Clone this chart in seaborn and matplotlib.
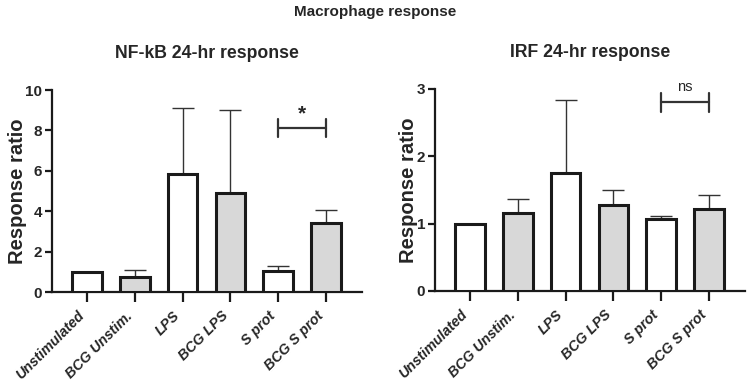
import matplotlib
matplotlib.use("Agg")
import matplotlib.pyplot as plt
import seaborn as sns
import pandas as pd
import numpy as np

categories = ["Unstimulated", "BCG Unstim.", "LPS", "BCG LPS", "S prot", "BCG S prot"]
nfkb_mean = [0.97, 0.75, 5.85, 4.88, 1.02, 3.42]
nfkb_upper = [0.97, 1.07, 9.13, 9.03, 1.27, 4.05]
irf_mean = [0.99, 1.16, 1.75, 1.27, 1.07, 1.22]
irf_upper = [0.99, 1.36, 2.83, 1.50, 1.11, 1.42]
fill_colors = ["white", "#d8d8d8", "white", "#d8d8d8", "white", "#d8d8d8"]

sns.set_theme(style="ticks")
plt.rcParams['font.family'] = ['Liberation Sans', 'DejaVu Sans']

fig = plt.figure(figsize=(7.5, 3.83), dpi=100)
W, H = 750, 383

def axes_px(x0, y0, x1, y1):
    return fig.add_axes([x0 / W, 1 - y1 / H, (x1 - x0) / W, (y1 - y0) / H])

ax1 = axes_px(52, 90, 362, 292)
ax2 = axes_px(435, 89, 745, 291)

def draw(ax, mean, upper, ymax, yticks, title, sig_y, sig_lo, sig_hi, sig_text, text_y, text_size):
    df = pd.DataFrame({"cat": categories, "val": mean})
    sns.barplot(data=df, x="cat", y="val", hue="cat", palette=fill_colors, legend=False,
                edgecolor="#1a1a1a", linewidth=2.2, width=0.62, errorbar=None, ax=ax,
                zorder=3)
    x = np.arange(len(categories))
    m = np.array(mean)
    up = np.array(upper) - m
    ax.errorbar(x, m, yerr=[np.zeros_like(up), up], fmt="none", ecolor="#333333",
                elinewidth=1.0, capsize=8, capthick=1.0, zorder=2)
    ax.set_xlim(-0.73, 5.75)
    ax.set_ylim(0, ymax)
    ax.set_yticks(yticks)
    ax.set_yticklabels([str(t) for t in yticks], fontsize=11, fontweight="bold")
    ax.set_xticks(x)
    ax.set_xticklabels(categories, rotation=45, ha="right",
                       fontsize=10.3, fontstyle="italic", fontweight="bold")
    ax.set_xlabel("")
    ax.set_ylabel("Response ratio", fontsize=14.5, fontweight="bold", labelpad=-1)
    ax.set_title(title, fontsize=12.7, fontweight="bold", pad=23)
    for s in ["top", "right"]:
        ax.spines[s].set_visible(False)
    for s in ["left", "bottom"]:
        ax.spines[s].set_linewidth(1.6)
        ax.spines[s].set_color("#1a1a1a")
    ax.tick_params(axis="x", length=7, width=1.6, color="#1a1a1a", pad=5)
    ax.tick_params(axis="y", length=5, width=1.6, color="#1a1a1a", pad=2)
    # significance bracket between S prot and BCG S prot
    ax.plot([4, 5], [sig_y, sig_y], color="#333333", lw=1.6, clip_on=False)
    ax.plot([4, 4], [sig_lo, sig_hi], color="#333333", lw=1.6, clip_on=False)
    ax.plot([5, 5], [sig_lo, sig_hi], color="#333333", lw=1.6, clip_on=False)
    ax.text(4.5, text_y, sig_text, ha="center", va="center",
            fontsize=text_size, fontweight="bold" if sig_text == "*" else "normal")

draw(ax1, nfkb_mean, nfkb_upper, 10, [0, 2, 4, 6, 8, 10], "NF-kB 24-hr response",
     8.12, 7.67, 8.56, "*", 8.8, 15)
draw(ax2, irf_mean, irf_upper, 3, [0, 1, 2, 3], "IRF 24-hr response",
     2.80, 2.66, 2.94, "ns", 3.03, 10.5)

fig.text(0.5, 1 - 12 / H, "Macrophage response", ha="center", va="center",
         fontsize=11, fontweight="bold")

fig.savefig("out.png", dpi=100)
